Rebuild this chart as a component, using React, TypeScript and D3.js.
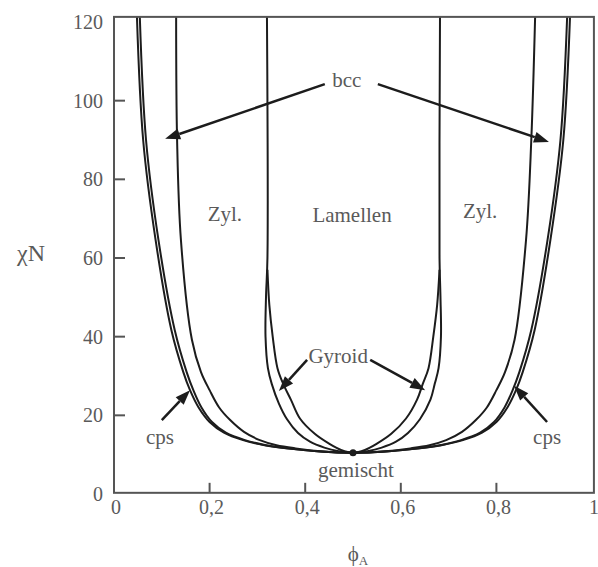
import * as d3 from "d3";

type Pt = [number, number];

// phase boundaries, [phiA, chiN] (left branch top→bottom, right branch top→bottom)
const odtLeft: Pt[] = [[0.048, 121.3], [0.061, 90], [0.087, 64.6], [0.12, 41.7], [0.145, 31], [0.159, 26.4], [0.177, 22], [0.2, 18.3], [0.23, 15.6], [0.27, 13.7], [0.315, 12.4], [0.36, 11.6], [0.43, 10.8], [0.5, 10.5]];
const odtRight: Pt[] = [[0.954, 121.3], [0.94, 90], [0.913, 64.6], [0.88, 41.7], [0.855, 31], [0.841, 26.4], [0.823, 22], [0.8, 18.3], [0.77, 15.6], [0.73, 13.7], [0.685, 12.4], [0.64, 11.6], [0.57, 10.8], [0.5, 10.5]];

const cpsLeft: Pt[] = [[0.054, 121.3], [0.067, 90], [0.093, 64.6], [0.127, 41.7], [0.152, 31], [0.166, 26.4], [0.183, 22], [0.205, 18.3], [0.234, 15.6], [0.274, 13.7], [0.318, 12.4], [0.362, 11.6], [0.431, 10.8], [0.5, 10.5]];
const cpsRight: Pt[] = [[0.948, 121.3], [0.934, 90], [0.907, 64.6], [0.873, 41.7], [0.848, 31], [0.834, 26.4], [0.817, 22], [0.795, 18.3], [0.766, 15.6], [0.726, 13.7], [0.682, 12.4], [0.638, 11.6], [0.569, 10.8], [0.5, 10.5]];

const bccCylLeft: Pt[] = [[0.13, 121.3], [0.132, 90], [0.14, 64.6], [0.163, 39.2], [0.182, 31], [0.2, 26.4], [0.22, 22], [0.243, 18.8], [0.272, 15.8], [0.305, 13.7], [0.34, 12.4], [0.38, 11.6], [0.44, 10.8], [0.5, 10.5]];
const bccCylRight: Pt[] = [[0.881, 121.3], [0.873, 90], [0.862, 64.6], [0.838, 39.2], [0.818, 31], [0.8, 26.4], [0.78, 22], [0.757, 18.8], [0.728, 15.8], [0.695, 13.7], [0.66, 12.4], [0.62, 11.6], [0.56, 10.8], [0.5, 10.5]];

const cylGyrLeft: Pt[] = [[0.32, 121.3], [0.321, 60], [0.318, 50], [0.317, 40], [0.322, 32], [0.33, 28], [0.345, 23], [0.362, 19], [0.385, 15.5], [0.41, 13.3], [0.44, 11.8], [0.47, 10.9], [0.5, 10.5]];
const cylGyrRight: Pt[] = [[0.682, 121.3], [0.681, 60], [0.683, 50], [0.684, 40], [0.679, 32], [0.671, 28], [0.662, 24], [0.64, 19], [0.615, 15.5], [0.59, 13.3], [0.56, 11.8], [0.53, 10.9], [0.5, 10.5]];

const gyrLamLeft: Pt[] = [[0.321, 57], [0.325, 48], [0.332, 40], [0.342, 32], [0.354, 28], [0.37, 24], [0.389, 19.2], [0.42, 15.3], [0.45, 12.8], [0.475, 11.2], [0.5, 10.5]];
const gyrLamRight: Pt[] = [[0.681, 57], [0.676, 48], [0.668, 40], [0.658, 32], [0.646, 28], [0.634, 24], [0.611, 19.2], [0.58, 15.3], [0.55, 12.8], [0.525, 11.2], [0.5, 10.5]];

const criticalPoint: Pt = [0.5, 10.5];

const xTicks = [0, 0.2, 0.4, 0.6, 0.8, 1];
const xTickLabels = ["0", "0,2", "0,4", "0,6", "0,8", "1"];
const yTicks = [0, 20, 40, 60, 80, 100, 120];

// region labels and arrows (data coords)
const labels: { text: string; at: Pt }[] = [
  { text: "bcc", at: [0.487, 105.3] },
  { text: "Zyl.", at: [0.232, 71.4] },
  { text: "Lamellen", at: [0.498, 70.9] },
  { text: "Zyl.", at: [0.766, 72] },
  { text: "Gyroid", at: [0.469, 35.1] },
  { text: "cps", at: [0.096, 14.5] },
  { text: "cps", at: [0.906, 14.7] },
  { text: "gemischt", at: [0.506, 6.1] },
];
const arrows: { from: Pt; to: Pt }[] = [
  { from: [0.441, 104.2], to: [0.107, 90.3] },
  { from: [0.552, 104.2], to: [0.91, 89.5] },
  { from: [0.404, 34.1], to: [0.345, 26.2] },
  { from: [0.536, 34.1], to: [0.651, 26.4] },
  { from: [0.1, 18.8], to: [0.159, 26.4] },
  { from: [0.906, 18.3], to: [0.837, 27.5] },
];

const FONT = "'Liberation Serif', 'DejaVu Serif', serif";
const TEXT = "#5a5a5a";
const INK = "#1c1c1c";

export default function App() {
  const width = 598, height = 567;
  const x = d3.scaleLinear().domain([0, 1]).range([114, 592]);
  const y = d3.scaleLinear().domain([0, 120]).range([494, 22]);

  const line = d3.line<Pt>()
    .x(d => x(d[0])).y(d => y(d[1]))
    .curve(d3.curveCatmullRom.alpha(0.5));
  const join = (l: Pt[], r: Pt[]) => [...l, ...r.slice(0, -1).reverse()];

  const curves = [
    join(odtLeft, odtRight),
    join(cpsLeft, cpsRight),
    join(bccCylLeft, bccCylRight),
    join(cylGyrLeft, cylGyrRight),
    join(gyrLamLeft, gyrLamRight),
  ];

  const fx0 = x(0), fx1 = x(1.004), fy0 = y(0.3), fy1 = y(121.3);

  const arrowShape = (a: { from: Pt; to: Pt }) => {
    const x1 = x(a.from[0]), y1 = y(a.from[1]);
    const x2 = x(a.to[0]), y2 = y(a.to[1]);
    const ang = Math.atan2(y2 - y1, x2 - x1);
    const hl = 15, hw = 5.5;
    const bx = x2 - hl * Math.cos(ang), by = y2 - hl * Math.sin(ang);
    const px = -Math.sin(ang) * hw, py = Math.cos(ang) * hw;
    return { x1, y1, bx, by, head: `${x2},${y2} ${bx + px},${by + py} ${bx - px},${by - py}` };
  };

  return (
    <svg width={width} height={height} style={{ position: "absolute", left: 0, top: 0, background: "#fff" }}>
      <rect x={0} y={0} width={width} height={height} fill="#fff" />

      {/* phase boundaries */}
      {curves.map((c, i) => (
        <path key={i} d={line(c) || ""} fill="none" stroke={INK} strokeWidth={2} strokeLinejoin="round" />
      ))}
      <circle cx={x(criticalPoint[0])} cy={y(criticalPoint[1])} r={3.5} fill={INK} />

      {/* frame */}
      <rect x={fx0} y={fy1} width={fx1 - fx0} height={fy0 - fy1} fill="none" stroke="#555" strokeWidth={2} />

      {/* ticks */}
      {yTicks.filter(t => t > 0 && t < 120).map(t => (
        <line key={"yt" + t} x1={fx0} x2={fx0 + 11} y1={y(t)} y2={y(t)} stroke="#555" strokeWidth={2} />
      ))}
      {xTicks.filter(t => t > 0 && t < 1).map(t => (
        <line key={"xt" + t} x1={x(t)} x2={x(t)} y1={fy0} y2={fy0 - 10} stroke="#555" strokeWidth={2} />
      ))}
      {yTicks.map(t => (
        <text key={"yl" + t} x={103} y={y(t)} dy="0.35em" textAnchor="end" fontFamily={FONT} fontSize={20} fill={TEXT}>{t}</text>
      ))}
      {xTicks.map((t, i) => (
        <text key={"xl" + t} x={x(t) + 2} y={514} textAnchor="middle" fontFamily={FONT} fontSize={20} fill={TEXT}>{xTickLabels[i]}</text>
      ))}

      {/* axis titles */}
      <text x={31} y={261} textAnchor="middle" fontFamily={FONT} fontSize={24} fill={TEXT}>χN</text>
      <text x={358} y={561} textAnchor="middle" fontFamily={FONT} fontSize={21} fill={TEXT}>
        ϕ<tspan fontSize={13} dy={4}>A</tspan>
      </text>

      {/* arrows */}
      {arrows.map((a, i) => {
        const s = arrowShape(a);
        return (
          <g key={"ar" + i}>
            <line x1={s.x1} y1={s.y1} x2={s.bx} y2={s.by} stroke={INK} strokeWidth={2.5} />
            <polygon points={s.head} fill={INK} />
          </g>
        );
      })}

      {/* region labels */}
      {labels.map((l, i) => (
        <text key={"lb" + i} x={x(l.at[0])} y={y(l.at[1])} dy="0.35em" textAnchor="middle"
          fontFamily={FONT} fontSize={21} fill={TEXT}>{l.text}</text>
      ))}
    </svg>
  );
}
